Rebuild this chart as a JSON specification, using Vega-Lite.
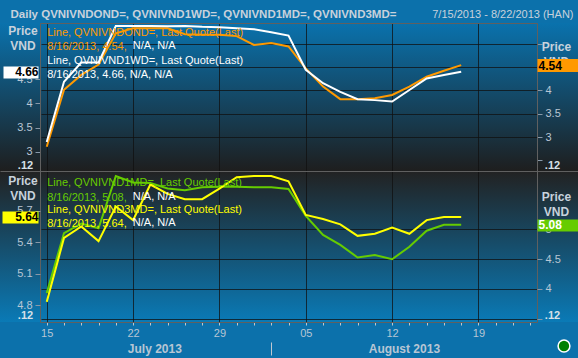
{
"$schema": "https://vega.github.io/schema/vega-lite/v6.json",
"autosize": "none",
"width": 578,
"height": 299,
"padding": {"left": 0, "right": 0, "top": 23, "bottom": 36},
"background": "#0c71ab",
"view": {"stroke": null, "fill": {"gradient": "linear", "x1": 0, "y1": 0, "x2": 0, "y2": 1, "stops": [{"offset": 0, "color": "#0a72ad"}, {"offset": 0.495, "color": "#1e1e1e"}, {"offset": 0.495, "color": "#222222"}, {"offset": 1, "color": "#0a7ab6"}]}},
"config": {
  "font": "Liberation Sans",
  "axis": {"labelFont": "Liberation Sans", "titleFont": "Liberation Sans", "labelColor": "#b8c6d4", "labelFontSize": 11, "titleColor": "#c8d2dc", "titleFontSize": 12, "titleFontWeight": "bold", "tickColor": "#8898a8", "domainColor": "#606060", "gridColor": "#101010", "labelOverlap": false, "labelFlush": false},
  "legend": {"labelFont": "Liberation Sans", "labelFontSize": 11, "labelLimit": 0, "padding": 0, "rowPadding": 2.3, "symbolSize": 0, "symbolOpacity": 0, "symbolStrokeWidth": 0, "symbolType": "circle", "labelOffset": 0, "orient": "none"}
},
"data": {"values": [
{"date":"2013-07-15","series":"QVNIVNDOND=","value":2.79},
{"date":"2013-07-16","series":"QVNIVNDOND=","value":4.01},
{"date":"2013-07-17","series":"QVNIVNDOND=","value":4.33},
{"date":"2013-07-18","series":"QVNIVNDOND=","value":4.55},
{"date":"2013-07-19","series":"QVNIVNDOND=","value":5.22},
{"date":"2013-07-22","series":"QVNIVNDOND=","value":5.33},
{"date":"2013-07-23","series":"QVNIVNDOND=","value":5.33},
{"date":"2013-07-24","series":"QVNIVNDOND=","value":5.33},
{"date":"2013-07-25","series":"QVNIVNDOND=","value":5.20},
{"date":"2013-07-26","series":"QVNIVNDOND=","value":5.19},
{"date":"2013-07-29","series":"QVNIVNDOND=","value":5.19},
{"date":"2013-07-30","series":"QVNIVNDOND=","value":5.16},
{"date":"2013-07-31","series":"QVNIVNDOND=","value":4.97},
{"date":"2013-08-01","series":"QVNIVNDOND=","value":5.01},
{"date":"2013-08-02","series":"QVNIVNDOND=","value":4.94},
{"date":"2013-08-05","series":"QVNIVNDOND=","value":4.47},
{"date":"2013-08-06","series":"QVNIVNDOND=","value":4.08},
{"date":"2013-08-07","series":"QVNIVNDOND=","value":3.81},
{"date":"2013-08-08","series":"QVNIVNDOND=","value":3.81},
{"date":"2013-08-09","series":"QVNIVNDOND=","value":3.83},
{"date":"2013-08-12","series":"QVNIVNDOND=","value":3.90},
{"date":"2013-08-13","series":"QVNIVNDOND=","value":4.08},
{"date":"2013-08-14","series":"QVNIVNDOND=","value":4.29},
{"date":"2013-08-15","series":"QVNIVNDOND=","value":4.42},
{"date":"2013-08-16","series":"QVNIVNDOND=","value":4.54},
{"date":"2013-07-15","series":"QVNIVND1WD=","value":3.20},
{"date":"2013-07-16","series":"QVNIVND1WD=","value":4.45},
{"date":"2013-07-17","series":"QVNIVND1WD=","value":4.85},
{"date":"2013-07-18","series":"QVNIVND1WD=","value":4.85},
{"date":"2013-07-19","series":"QVNIVND1WD=","value":5.61},
{"date":"2013-07-22","series":"QVNIVND1WD=","value":5.61},
{"date":"2013-07-23","series":"QVNIVND1WD=","value":5.61},
{"date":"2013-07-24","series":"QVNIVND1WD=","value":5.60},
{"date":"2013-07-25","series":"QVNIVND1WD=","value":5.61},
{"date":"2013-07-26","series":"QVNIVND1WD=","value":5.59},
{"date":"2013-07-29","series":"QVNIVND1WD=","value":5.58},
{"date":"2013-07-30","series":"QVNIVND1WD=","value":5.56},
{"date":"2013-07-31","series":"QVNIVND1WD=","value":5.54},
{"date":"2013-08-01","series":"QVNIVND1WD=","value":5.48},
{"date":"2013-08-02","series":"QVNIVND1WD=","value":5.41},
{"date":"2013-08-05","series":"QVNIVND1WD=","value":4.70},
{"date":"2013-08-06","series":"QVNIVND1WD=","value":4.42},
{"date":"2013-08-07","series":"QVNIVND1WD=","value":4.24},
{"date":"2013-08-08","series":"QVNIVND1WD=","value":4.09},
{"date":"2013-08-09","series":"QVNIVND1WD=","value":4.07},
{"date":"2013-08-12","series":"QVNIVND1WD=","value":4.04},
{"date":"2013-08-13","series":"QVNIVND1WD=","value":4.28},
{"date":"2013-08-14","series":"QVNIVND1WD=","value":4.52},
{"date":"2013-08-15","series":"QVNIVND1WD=","value":4.59},
{"date":"2013-08-16","series":"QVNIVND1WD=","value":4.66},
{"date":"2013-07-15","series":"QVNIVND1MD=","value":3.93},
{"date":"2013-07-16","series":"QVNIVND1MD=","value":4.94},
{"date":"2013-07-17","series":"QVNIVND1MD=","value":5.10},
{"date":"2013-07-18","series":"QVNIVND1MD=","value":5.02},
{"date":"2013-07-19","series":"QVNIVND1MD=","value":5.90},
{"date":"2013-07-22","series":"QVNIVND1MD=","value":5.79},
{"date":"2013-07-23","series":"QVNIVND1MD=","value":5.78},
{"date":"2013-07-24","series":"QVNIVND1MD=","value":5.69},
{"date":"2013-07-25","series":"QVNIVND1MD=","value":5.66},
{"date":"2013-07-26","series":"QVNIVND1MD=","value":5.71},
{"date":"2013-07-29","series":"QVNIVND1MD=","value":5.72},
{"date":"2013-07-30","series":"QVNIVND1MD=","value":5.72},
{"date":"2013-07-31","series":"QVNIVND1MD=","value":5.71},
{"date":"2013-08-01","series":"QVNIVND1MD=","value":5.71},
{"date":"2013-08-02","series":"QVNIVND1MD=","value":5.68},
{"date":"2013-08-05","series":"QVNIVND1MD=","value":5.23},
{"date":"2013-08-06","series":"QVNIVND1MD=","value":4.91},
{"date":"2013-08-07","series":"QVNIVND1MD=","value":4.74},
{"date":"2013-08-08","series":"QVNIVND1MD=","value":4.53},
{"date":"2013-08-09","series":"QVNIVND1MD=","value":4.57},
{"date":"2013-08-12","series":"QVNIVND1MD=","value":4.50},
{"date":"2013-08-13","series":"QVNIVND1MD=","value":4.71},
{"date":"2013-08-14","series":"QVNIVND1MD=","value":4.98},
{"date":"2013-08-15","series":"QVNIVND1MD=","value":5.08},
{"date":"2013-08-16","series":"QVNIVND1MD=","value":5.08},
{"date":"2013-07-15","series":"QVNIVND3MD=","value":4.83},
{"date":"2013-07-16","series":"QVNIVND3MD=","value":5.44},
{"date":"2013-07-17","series":"QVNIVND3MD=","value":5.55},
{"date":"2013-07-18","series":"QVNIVND3MD=","value":5.41},
{"date":"2013-07-19","series":"QVNIVND3MD=","value":5.74},
{"date":"2013-07-22","series":"QVNIVND3MD=","value":5.61},
{"date":"2013-07-23","series":"QVNIVND3MD=","value":5.95},
{"date":"2013-07-24","series":"QVNIVND3MD=","value":5.86},
{"date":"2013-07-25","series":"QVNIVND3MD=","value":5.81},
{"date":"2013-07-26","series":"QVNIVND3MD=","value":5.81},
{"date":"2013-07-29","series":"QVNIVND3MD=","value":5.91},
{"date":"2013-07-30","series":"QVNIVND3MD=","value":6.02},
{"date":"2013-07-31","series":"QVNIVND3MD=","value":6.03},
{"date":"2013-08-01","series":"QVNIVND3MD=","value":6.03},
{"date":"2013-08-02","series":"QVNIVND3MD=","value":5.98},
{"date":"2013-08-05","series":"QVNIVND3MD=","value":5.66},
{"date":"2013-08-06","series":"QVNIVND3MD=","value":5.62},
{"date":"2013-08-07","series":"QVNIVND3MD=","value":5.57},
{"date":"2013-08-08","series":"QVNIVND3MD=","value":5.46},
{"date":"2013-08-09","series":"QVNIVND3MD=","value":5.48},
{"date":"2013-08-12","series":"QVNIVND3MD=","value":5.54},
{"date":"2013-08-13","series":"QVNIVND3MD=","value":5.48},
{"date":"2013-08-14","series":"QVNIVND3MD=","value":5.61},
{"date":"2013-08-15","series":"QVNIVND3MD=","value":5.64},
{"date":"2013-08-16","series":"QVNIVND3MD=","value":5.64}
]},
"resolve": {"scale": {"y": "independent", "color": "independent"}, "axis": {"y": "independent", "x": "independent"}, "legend": {"color": "independent"}},
"layer": [
{
  "transform": [{"filter": "datum.series == 'QVNIVNDOND='"}],
  "mark": {"type": "line", "strokeWidth": 2},
  "encoding": {
    "x": {"field": "date", "type": "ordinal", "scale": {"type": "point", "domain": ["2013-07-15","2013-07-16","2013-07-17","2013-07-18","2013-07-19","2013-07-22","2013-07-23","2013-07-24","2013-07-25","2013-07-26","2013-07-29","2013-07-30","2013-07-31","2013-08-01","2013-08-02","2013-08-05","2013-08-06","2013-08-07","2013-08-08","2013-08-09","2013-08-12","2013-08-13","2013-08-14","2013-08-15","2013-08-16","2013-08-19","2013-08-20","2013-08-21","2013-08-22"], "range": [40, 537], "padding": 0.39},
      "axis": {"orient": "top", "domain": true, "ticks": false, "labels": false, "grid": false, "title": "7/15/2013 - 8/22/2013 (HAN)", "titleX": 573, "titleY": -8.5, "titleAlign": "right", "titleBaseline": "middle", "titleFontWeight": "normal", "titleFontSize": 11, "titleColor": "#c8d2dc"}},
    "y": {"field": "value", "type": "quantitative", "scale": {"domain": [-0.961, 5.441], "nice": false, "zero": false},
      "axis": {"orient": "right", "offset": -41, "values": [2.5, 3, 3.5, 4, 4.5, 5], "format": ".2~f", "labelExpr": "datum.value >= 3 && datum.value <= 4 ? datum.label : ''", "grid": true, "gridOpacity": {"condition": {"test": "datum.value < 3", "value": 0}, "value": 0.75}, "tickSize": 5, "labelPadding": 3, "title": ["Price", "VND"], "titleX": 19, "titleY": 23.7, "titleAngle": 0, "titleAlign": "center", "titleBaseline": "middle", "titleLineHeight": 15}},
    "color": {"field": "series", "type": "nominal", "scale": {"domain": ["QVNIVNDOND=", "8/16/2013, 4.54,"], "range": ["#ff9900", "#ff9900"]},
      "legend": {"title": null, "legendX": 36.2, "legendY": 4.2, "labelColor": "#ff9900", "labelExpr": "datum.label == 'QVNIVNDOND=' ? 'Line, QVNIVNDOND=, Last Quote(Last)' : datum.label"}}
  }
},
{
  "transform": [{"filter": "datum.series == 'QVNIVND1WD='"}],
  "mark": {"type": "line", "strokeWidth": 2},
  "encoding": {
    "x": {"field": "date", "type": "ordinal", "scale": {"type": "point", "domain": ["2013-07-15","2013-07-16","2013-07-17","2013-07-18","2013-07-19","2013-07-22","2013-07-23","2013-07-24","2013-07-25","2013-07-26","2013-07-29","2013-07-30","2013-07-31","2013-08-01","2013-08-02","2013-08-05","2013-08-06","2013-08-07","2013-08-08","2013-08-09","2013-08-12","2013-08-13","2013-08-14","2013-08-15","2013-08-16","2013-08-19","2013-08-20","2013-08-21","2013-08-22"], "range": [40, 537], "padding": 0.39},
      "axis": {"orient": "bottom", "values": ["2013-07-15","2013-07-16","2013-07-17","2013-07-18","2013-07-19","2013-07-22","2013-07-23","2013-07-24","2013-07-25","2013-07-26","2013-07-29","2013-07-30","2013-07-31","2013-08-01","2013-08-02","2013-08-05","2013-08-06","2013-08-07","2013-08-08","2013-08-09","2013-08-12","2013-08-13","2013-08-14","2013-08-15","2013-08-16","2013-08-19","2013-08-20","2013-08-21","2013-08-22"], "labelExpr": "indexof(['2013-07-15','2013-07-22','2013-07-29','2013-08-05','2013-08-12','2013-08-19'], datum.value) >= 0 ? slice(datum.value, 8) : ''", "labelAngle": 0, "tickSize": 3, "tickColor": "#c0c8d0", "labelPadding": 2, "grid": true, "gridOpacity": {"condition": {"test": "indexof(['2013-07-15','2013-07-22','2013-07-29','2013-08-05','2013-08-12','2013-08-19'], datum.value) < 0", "value": 0}, "value": 0.75}, "title": null}},
    "y": {"field": "value", "type": "quantitative", "scale": {"domain": [-0.533, 5.670], "nice": false, "zero": false},
      "axis": {"orient": "left", "offset": -40, "values": [3, 3.5, 4, 4.5], "format": ".2~f", "grid": false, "tickSize": 5, "labelPadding": 3, "title": ["Price", "VND"], "titleX": -17.5, "titleY": 7, "titleAngle": 0, "titleAlign": "center", "titleBaseline": "middle", "titleLineHeight": 15}},
    "color": {"field": "series", "type": "nominal", "scale": {"domain": ["QVNIVND1WD=", "8/16/2013, 4.66, N/A, N/A"], "range": ["#ffffff", "#ffffff"]},
      "legend": {"title": null, "legendX": 36.2, "legendY": 32.2, "labelColor": "#ffffff", "labelExpr": "datum.label == 'QVNIVND1WD=' ? 'Line, QVNIVND1WD=, Last Quote(Last)' : datum.label"}}
  }
},
{
  "transform": [{"filter": "datum.series == 'QVNIVND1MD='"}],
  "mark": {"type": "line", "strokeWidth": 2},
  "encoding": {
    "x": {"field": "date", "type": "ordinal", "scale": {"type": "point", "domain": ["2013-07-15","2013-07-16","2013-07-17","2013-07-18","2013-07-19","2013-07-22","2013-07-23","2013-07-24","2013-07-25","2013-07-26","2013-07-29","2013-07-30","2013-07-31","2013-08-01","2013-08-02","2013-08-05","2013-08-06","2013-08-07","2013-08-08","2013-08-09","2013-08-12","2013-08-13","2013-08-14","2013-08-15","2013-08-16","2013-08-19","2013-08-20","2013-08-21","2013-08-22"], "range": [40, 537], "padding": 0.39},
      "axis": {"orient": "bottom", "offset": 20, "values": ["2013-07-23", "2013-08-01", "2013-08-13"], "labelExpr": "datum.value == '2013-07-23' ? 'July 2013' : (datum.value == '2013-08-13' ? 'August 2013' : '')", "labelAngle": 0, "domain": false, "grid": false, "tickSize": 13, "tickColor": "#c0c8d0", "tickOpacity": {"condition": {"test": "datum.value != '2013-08-01'", "value": 0}, "value": 1}, "labelPadding": -6.5, "labelBaseline": "middle", "labelFontWeight": "bold", "labelFontSize": 12, "labelOffset": {"condition": {"test": "datum.value == '2013-07-23'", "value": 4}, "value": -5.5}, "title": null}},
    "y": {"field": "value", "type": "quantitative", "scale": {"domain": [3.445, 8.471], "nice": false, "zero": false},
      "axis": {"orient": "right", "offset": -41, "domain": false, "values": [3.5, 4, 4.5, 5, 5.9832], "format": ".2~f", "labelExpr": "datum.value >= 4 && datum.value < 5.5 ? datum.label : ''", "grid": true, "gridOpacity": {"condition": {"test": "datum.value > 5.5", "value": 0}, "value": 0.75}, "tickSize": {"condition": {"test": "datum.value > 5.5", "value": 41}, "value": 5}, "tickColor": {"condition": {"test": "datum.value > 5.5", "value": "#606060"}, "value": "#8898a8"}, "labelPadding": 3, "title": ["Price", "VND"], "titleX": 19, "titleY": 173, "titleAngle": 0, "titleAlign": "center", "titleBaseline": "middle", "titleLineHeight": 15}},
    "color": {"field": "series", "type": "nominal", "scale": {"domain": ["QVNIVND1MD=", "8/16/2013, 5.08,"], "range": ["#66cc00", "#66cc00"]},
      "legend": {"title": null, "legendX": 36.2, "legendY": 154.8, "labelColor": "#66cc00", "labelExpr": "datum.label == 'QVNIVND1MD=' ? 'Line, QVNIVND1MD=, Last Quote(Last)' : datum.label"}}
  }
},
{
  "transform": [{"filter": "datum.series == 'QVNIVND3MD='"}],
  "mark": {"type": "line", "strokeWidth": 2},
  "encoding": {
    "x": {"field": "date", "type": "ordinal", "scale": {"type": "point", "domain": ["2013-07-15","2013-07-16","2013-07-17","2013-07-18","2013-07-19","2013-07-22","2013-07-23","2013-07-24","2013-07-25","2013-07-26","2013-07-29","2013-07-30","2013-07-31","2013-08-01","2013-08-02","2013-08-05","2013-08-06","2013-08-07","2013-08-08","2013-08-09","2013-08-12","2013-08-13","2013-08-14","2013-08-15","2013-08-16","2013-08-19","2013-08-20","2013-08-21","2013-08-22"], "range": [40, 537], "padding": 0.39},
      "axis": {"orient": "top", "offset": -148, "domain": true, "ticks": false, "labels": false, "grid": false, "title": null}},
    "y": {"field": "value", "type": "quantitative", "scale": {"domain": [4.638, 7.491], "nice": false, "zero": false},
      "axis": {"orient": "left", "offset": -40, "domain": false, "values": [4.8, 5.1, 5.4, 5.7, 6.0788], "format": ".2~f", "labelExpr": "datum.value < 6 ? datum.label : ''", "grid": false, "tickSize": {"condition": {"test": "datum.value > 6", "value": 40}, "value": 5}, "tickColor": {"condition": {"test": "datum.value > 6", "value": "#606060"}, "value": "#8898a8"}, "labelPadding": 3, "title": ["Price", "VND"], "titleX": -17.5, "titleY": 157, "titleAngle": 0, "titleAlign": "center", "titleBaseline": "middle", "titleLineHeight": 15}},
    "color": {"field": "series", "type": "nominal", "scale": {"domain": ["QVNIVND3MD=", "8/16/2013, 5.64,"], "range": ["#ffff00", "#ffff00"]},
      "legend": {"title": null, "legendX": 36.2, "legendY": 181.5, "labelColor": "#ffff00", "labelExpr": "datum.label == 'QVNIVND3MD=' ? 'Line, QVNIVND3MD=, Last Quote(Last)' : datum.label"}}
  }
},
{
  "transform": [{"filter": "datum.series == 'QVNIVND1WD='"}],
  "mark": {"type": "point", "opacity": 0, "filled": true},
  "encoding": {
    "x": {"field": "date", "type": "ordinal", "scale": {"type": "point", "domain": ["2013-07-15","2013-07-16","2013-07-17","2013-07-18","2013-07-19","2013-07-22","2013-07-23","2013-07-24","2013-07-25","2013-07-26","2013-07-29","2013-07-30","2013-07-31","2013-08-01","2013-08-02","2013-08-05","2013-08-06","2013-08-07","2013-08-08","2013-08-09","2013-08-12","2013-08-13","2013-08-14","2013-08-15","2013-08-16","2013-08-19","2013-08-20","2013-08-21","2013-08-22"], "range": [40, 537], "padding": 0.39},
      "axis": {"orient": "top", "domain": false, "ticks": false, "labels": false, "grid": false, "title": "Daily QVNIVNDOND=, QVNIVND1WD=, QVNIVND1MD=, QVNIVND3MD=", "titleX": 10, "titleY": -8.5, "titleAlign": "left", "titleBaseline": "middle", "titleFontWeight": "bold", "titleFontSize": 11.5, "titleColor": "#c8d2dc"}},
    "y": {"field": "value", "type": "quantitative", "scale": {"domain": [-0.533, 5.670], "nice": false, "zero": false},
      "axis": {"orient": "left", "offset": -38, "domain": false, "grid": false, "values": [4.66], "format": ".2f", "tickSize": 35, "tickWidth": 12, "tickColor": "#ffffff", "labelPadding": -35, "labelColor": "#000000", "labelFontWeight": "bold", "labelFontSize": 12, "title": ".12", "titleX": -13, "titleY": 142, "titleAngle": 0, "titleAlign": "center", "titleBaseline": "middle", "titleFontSize": 11, "titleColor": "#d8e0e8"}},
    "color": {"datum": "N/A, N/A", "type": "nominal", "scale": {"range": ["#ffffff"]},
      "legend": {"title": null, "legendX": 121.8, "legendY": 17.5, "labelColor": "#ffffff"}}
  }
},
{
  "transform": [{"filter": "datum.series == 'QVNIVNDOND='"}],
  "mark": {"type": "point", "opacity": 0, "filled": true},
  "encoding": {
    "x": {"field": "date", "type": "ordinal", "scale": {"type": "point", "domain": ["2013-07-15","2013-07-16","2013-07-17","2013-07-18","2013-07-19","2013-07-22","2013-07-23","2013-07-24","2013-07-25","2013-07-26","2013-07-29","2013-07-30","2013-07-31","2013-08-01","2013-08-02","2013-08-05","2013-08-06","2013-08-07","2013-08-08","2013-08-09","2013-08-12","2013-08-13","2013-08-14","2013-08-15","2013-08-16","2013-08-19","2013-08-20","2013-08-21","2013-08-22"], "range": [40, 537], "padding": 0.39}, "axis": null},
    "y": {"field": "value", "type": "quantitative", "scale": {"domain": [-0.961, 5.441], "nice": false, "zero": false},
      "axis": {"orient": "right", "offset": -41, "domain": false, "grid": false, "values": [4.54], "format": ".2f", "tickSize": 41, "tickWidth": 13, "tickColor": "#ff9900", "labelPadding": -40, "labelColor": "#000000", "labelFontWeight": "bold", "labelFontSize": 12, "title": ".12", "titleX": 15, "titleY": 142, "titleAngle": 0, "titleAlign": "center", "titleBaseline": "middle", "titleFontSize": 11, "titleColor": "#d8e0e8"}},
    "color": {"datum": "status", "type": "nominal", "scale": {"range": ["#008000"]},
      "legend": {"title": null, "legendX": 557, "legendY": 316, "labelExpr": "''", "encode": {"symbols": {"update": {"fill": {"value": "#008000"}, "stroke": {"value": "#ffffff"}, "strokeWidth": {"value": 1.5}, "opacity": {"value": 1}, "shape": {"value": "circle"}, "size": {"value": 140}}}}}}
  }
},
{
  "transform": [{"filter": "datum.series == 'QVNIVND3MD='"}],
  "mark": {"type": "point", "opacity": 0, "filled": true},
  "encoding": {
    "x": {"field": "date", "type": "ordinal", "scale": {"type": "point", "domain": ["2013-07-15","2013-07-16","2013-07-17","2013-07-18","2013-07-19","2013-07-22","2013-07-23","2013-07-24","2013-07-25","2013-07-26","2013-07-29","2013-07-30","2013-07-31","2013-08-01","2013-08-02","2013-08-05","2013-08-06","2013-08-07","2013-08-08","2013-08-09","2013-08-12","2013-08-13","2013-08-14","2013-08-15","2013-08-16","2013-08-19","2013-08-20","2013-08-21","2013-08-22"], "range": [40, 537], "padding": 0.39}, "axis": null},
    "y": {"field": "value", "type": "quantitative", "scale": {"domain": [4.638, 7.491], "nice": false, "zero": false},
      "axis": {"orient": "left", "offset": -38, "domain": false, "grid": false, "values": [5.64], "format": ".2f", "tickSize": 36, "tickWidth": 12, "tickColor": "#ffff00", "labelPadding": -36, "labelColor": "#000000", "labelFontWeight": "bold", "labelFontSize": 12, "title": ".12", "titleX": -13, "titleY": 292.3, "titleAngle": 0, "titleAlign": "center", "titleBaseline": "middle", "titleFontSize": 11, "titleColor": "#d8e0e8"}},
    "color": {"datum": "N/A, N/A", "type": "nominal", "scale": {"range": ["#ffffff"]},
      "legend": {"title": null, "legendX": 121.8, "legendY": 168.2, "labelColor": "#ffffff"}}
  }
},
{
  "transform": [{"filter": "datum.series == 'QVNIVND1MD='"}],
  "mark": {"type": "point", "opacity": 0, "filled": true},
  "encoding": {
    "x": {"field": "date", "type": "ordinal", "scale": {"type": "point", "domain": ["2013-07-15","2013-07-16","2013-07-17","2013-07-18","2013-07-19","2013-07-22","2013-07-23","2013-07-24","2013-07-25","2013-07-26","2013-07-29","2013-07-30","2013-07-31","2013-08-01","2013-08-02","2013-08-05","2013-08-06","2013-08-07","2013-08-08","2013-08-09","2013-08-12","2013-08-13","2013-08-14","2013-08-15","2013-08-16","2013-08-19","2013-08-20","2013-08-21","2013-08-22"], "range": [40, 537], "padding": 0.39}, "axis": null},
    "y": {"field": "value", "type": "quantitative", "scale": {"domain": [3.445, 8.471], "nice": false, "zero": false},
      "axis": {"orient": "right", "offset": -41, "domain": false, "grid": false, "values": [5.08], "format": ".2f", "tickSize": 41, "tickWidth": 12, "tickColor": "#66cc00", "labelPadding": -40, "labelColor": "#ffffff", "labelFontWeight": "bold", "labelFontSize": 12, "title": ".12", "titleX": 15, "titleY": 292.3, "titleAngle": 0, "titleAlign": "center", "titleBaseline": "middle", "titleFontSize": 11, "titleColor": "#d8e0e8"}},
    "color": {"datum": "N/A, N/A", "type": "nominal", "scale": {"range": ["#ffffff"]},
      "legend": {"title": null, "legendX": 121.8, "legendY": 194.8, "labelColor": "#ffffff"}}
  }
}
]
}
